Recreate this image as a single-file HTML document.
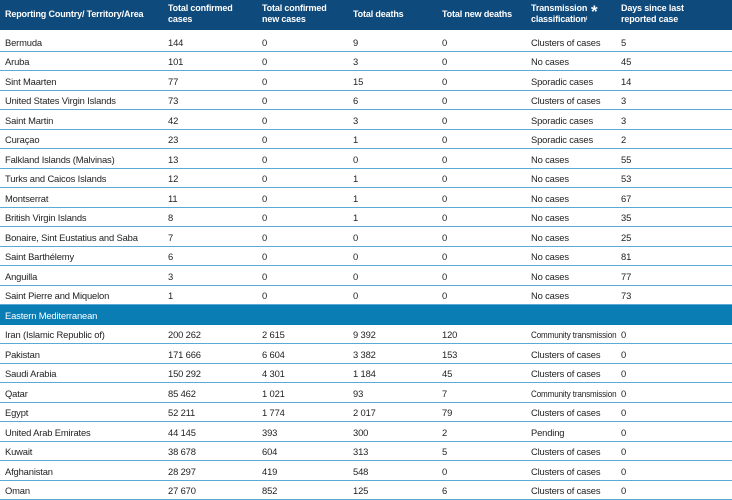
<!DOCTYPE html>
<html><head><meta charset="utf-8"><style>
body{margin:0;width:732px;height:500px;overflow:hidden;background:#fff;font-family:"Liberation Sans",sans-serif;font-size:9.4px;color:#222;letter-spacing:-0.15px}
.hd{position:absolute;left:0;top:0;width:732px;height:30px;background:#0e4a7c;color:#fff;font-weight:bold;font-size:9px}
.hd div{position:absolute;top:3px;line-height:11px}
.r{position:absolute;left:0;width:732px;height:19.5px;box-sizing:border-box;border-bottom:1px solid #5aa9d6}
.r span{position:absolute;top:4.5px;line-height:11px;white-space:nowrap}
.band{background:#0a7db5;color:#fff;border-bottom:none}
.c1{left:5px}.c2{left:168px}.c3{left:262px}.c4{left:353px}.c5{left:442px}.c6{left:531px}.c7{left:621px}
.sq{transform:scaleX(0.86);transform-origin:0 0}
</style></head><body>
<div class="hd">
<div class="c1" style="top:9px">Reporting Country/ Territory/Area</div>
<div class="c2">Total confirmed<br>cases</div>
<div class="c3">Total confirmed<br>new cases</div>
<div class="c4" style="top:9px">Total deaths</div>
<div class="c5" style="top:9px">Total new deaths</div>
<div class="c6">Transmission<br>classification<span style="font-size:5px;vertical-align:top">i</span></div>
<div style="left:591px;top:3px;font-size:17px;line-height:17px">*</div>
<div class="c7">Days since last<br>reported case</div>
</div>
<div id="rows"></div>
<script>
var d=[["Bermuda","144","0","9","0","Clusters of cases","5"],
["Aruba","101","0","3","0","No cases","45"],
["Sint Maarten","77","0","15","0","Sporadic cases","14"],
["United States Virgin Islands","73","0","6","0","Clusters of cases","3"],
["Saint Martin","42","0","3","0","Sporadic cases","3"],
["Curaçao","23","0","1","0","Sporadic cases","2"],
["Falkland Islands (Malvinas)","13","0","0","0","No cases","55"],
["Turks and Caicos Islands","12","0","1","0","No cases","53"],
["Montserrat","11","0","1","0","No cases","67"],
["British Virgin Islands","8","0","1","0","No cases","35"],
["Bonaire, Sint Eustatius and Saba","7","0","0","0","No cases","25"],
["Saint Barthélemy","6","0","0","0","No cases","81"],
["Anguilla","3","0","0","0","No cases","77"],
["Saint Pierre and Miquelon","1","0","0","0","No cases","73"],
["Eastern Mediterranean"],
["Iran (Islamic Republic of)","200 262","2 615","9 392","120","Community transmission","0"],
["Pakistan","171 666","6 604","3 382","153","Clusters of cases","0"],
["Saudi Arabia","150 292","4 301","1 184","45","Clusters of cases","0"],
["Qatar","85 462","1 021","93","7","Community transmission","0"],
["Egypt","52 211","1 774","2 017","79","Clusters of cases","0"],
["United Arab Emirates","44 145","393","300","2","Pending","0"],
["Kuwait","38 678","604","313","5","Clusters of cases","0"],
["Afghanistan","28 297","419","548","0","Clusters of cases","0"],
["Oman","27 670","852","125","6","Clusters of cases","0"]];
var h="";d.forEach(function(r,i){var t=32.3+i*19.5;h+='<div class="r'+(r.length==1?' band':'')+'" style="top:'+t+'px">';r.forEach(function(c,j){var s=(c=="Community transmission")?' sq':'';h+='<span class="c'+(j+1)+s+'">'+c+'</span>'});h+='</div>'});
document.getElementById("rows").innerHTML=h;
</script>
</body></html>
